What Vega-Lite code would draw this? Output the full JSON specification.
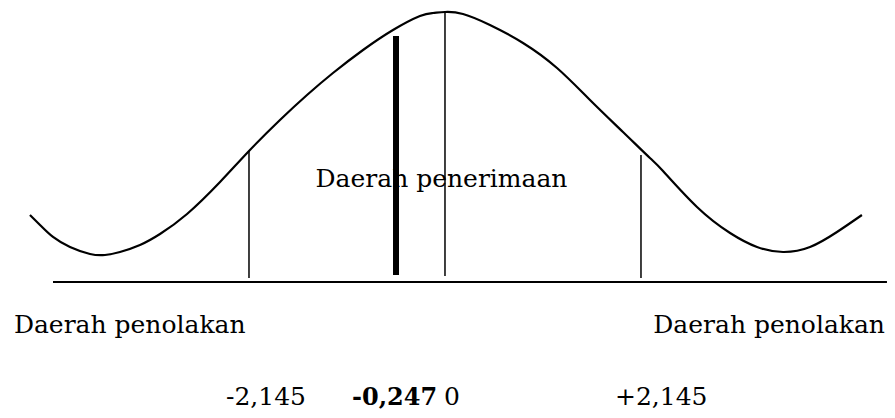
{
  "$schema": "https://vega.github.io/schema/vega-lite/v6.json",
  "width": 895,
  "height": 418,
  "autosize": {"type": "fit", "contains": "padding"},
  "padding": 0,
  "background": "white",
  "config": {"view": {"stroke": null}},
  "datasets": {
    "curve": [
      {"t": -4.542, "y": 0.2454},
      {"t": -4.432, "y": 0.2082},
      {"t": -4.290, "y": 0.1636},
      {"t": -4.104, "y": 0.1264},
      {"t": -3.885, "y": 0.1004},
      {"t": -3.721, "y": 0.0967},
      {"t": -3.557, "y": 0.1078},
      {"t": -3.338, "y": 0.1338},
      {"t": -3.119, "y": 0.1747},
      {"t": -2.823, "y": 0.2491},
      {"t": -2.462, "y": 0.3680},
      {"t": -2.145, "y": 0.4833},
      {"t": -1.806, "y": 0.5985},
      {"t": -1.510, "y": 0.6914},
      {"t": -1.226, "y": 0.7732},
      {"t": -0.897, "y": 0.8587},
      {"t": -0.569, "y": 0.9331},
      {"t": -0.274, "y": 0.9851},
      {"t": -0.131, "y": 0.9963},
      {"t": 0.0, "y": 1.0},
      {"t": 0.197, "y": 0.9926},
      {"t": 0.492, "y": 0.9517},
      {"t": 0.854, "y": 0.8848},
      {"t": 1.226, "y": 0.7918},
      {"t": 1.587, "y": 0.6729},
      {"t": 1.948, "y": 0.5539},
      {"t": 2.243, "y": 0.4572},
      {"t": 2.386, "y": 0.4089},
      {"t": 2.758, "y": 0.2751},
      {"t": 3.120, "y": 0.1784},
      {"t": 3.415, "y": 0.1264},
      {"t": 3.700, "y": 0.1078},
      {"t": 3.995, "y": 0.1264},
      {"t": 4.290, "y": 0.1822},
      {"t": 4.563, "y": 0.2454}
    ],
    "bounds": [
      {"name": "-2,145", "t": -2.145, "top": 0.4833, "bottom": 0.0112},
      {"name": "0", "t": 0.0, "top": 1.0, "bottom": 0.0186},
      {"name": "+2,145", "t": 2.145, "top": 0.4684, "bottom": 0.0112}
    ],
    "stat": [
      {"name": "-0,247", "t": -0.536, "top": 0.9108, "bottom": 0.0223}
    ],
    "baseline": [
      {"start": -4.290, "end": 4.837, "y": -0.0037}
    ],
    "accept": [
      {"label": "Daerah penerimaan", "t": -0.038, "y": 0.3494}
    ],
    "rejectLeft": [
      {"label": "Daerah penolakan", "t": -4.718, "y": -0.1933}
    ],
    "rejectRight": [
      {"label": "Daerah penolakan", "t": 4.815, "y": -0.1933}
    ],
    "numbers": [
      {"label": "-2,145", "t": -2.397, "y": -0.4610},
      {"label": "0", "t": -0.011, "y": -0.4610},
      {"label": "+2,145", "t": 1.860, "y": -0.4610}
    ],
    "boldNumber": [
      {"label": "-0,247", "t": -1.018, "y": -0.4610}
    ]
  },
  "layer": [
    {
      "data": {"name": "accept"},
      "mark": {"type": "text", "font": "DejaVu Serif", "fontSize": 25, "align": "center", "baseline": "alphabetic", "color": "black"},
      "encoding": {
        "x": {"field": "t", "type": "quantitative", "scale": {"domain": [-4.870, 4.925], "nice": false, "zero": false}, "axis": null},
        "y": {"field": "y", "type": "quantitative", "scale": {"domain": [-0.5093, 1.0446], "nice": false, "zero": false}, "axis": null},
        "text": {"field": "label"}
      }
    },
    {
      "data": {"name": "rejectLeft"},
      "mark": {"type": "text", "font": "DejaVu Serif", "fontSize": 25, "align": "left", "baseline": "alphabetic", "color": "black"},
      "encoding": {
        "x": {"field": "t", "type": "quantitative"},
        "y": {"field": "y", "type": "quantitative"},
        "text": {"field": "label"}
      }
    },
    {
      "data": {"name": "rejectRight"},
      "mark": {"type": "text", "font": "DejaVu Serif", "fontSize": 25, "align": "right", "baseline": "alphabetic", "color": "black"},
      "encoding": {
        "x": {"field": "t", "type": "quantitative"},
        "y": {"field": "y", "type": "quantitative"},
        "text": {"field": "label"}
      }
    },
    {
      "data": {"name": "numbers"},
      "mark": {"type": "text", "font": "DejaVu Serif", "fontSize": 25, "align": "left", "baseline": "alphabetic", "color": "black"},
      "encoding": {
        "x": {"field": "t", "type": "quantitative"},
        "y": {"field": "y", "type": "quantitative"},
        "text": {"field": "label"}
      }
    },
    {
      "data": {"name": "boldNumber"},
      "mark": {"type": "text", "font": "DejaVu Serif", "fontSize": 24, "fontWeight": "bold", "align": "left", "baseline": "alphabetic", "color": "black"},
      "encoding": {
        "x": {"field": "t", "type": "quantitative"},
        "y": {"field": "y", "type": "quantitative"},
        "text": {"field": "label"}
      }
    },
    {
      "data": {"name": "curve"},
      "mark": {"type": "line", "interpolate": "natural", "color": "black", "strokeWidth": 2.2},
      "encoding": {
        "x": {"field": "t", "type": "quantitative"},
        "y": {"field": "y", "type": "quantitative"}
      }
    },
    {
      "data": {"name": "baseline"},
      "mark": {"type": "rule", "color": "black", "strokeWidth": 2},
      "encoding": {
        "x": {"field": "start", "type": "quantitative"},
        "x2": {"field": "end"},
        "y": {"field": "y", "type": "quantitative"}
      }
    },
    {
      "data": {"name": "bounds"},
      "mark": {"type": "rule", "color": "black", "strokeWidth": 1.5},
      "encoding": {
        "x": {"field": "t", "type": "quantitative"},
        "y": {"field": "top", "type": "quantitative"},
        "y2": {"field": "bottom"}
      }
    },
    {
      "data": {"name": "stat"},
      "mark": {"type": "rule", "color": "black", "strokeWidth": 6},
      "encoding": {
        "x": {"field": "t", "type": "quantitative"},
        "y": {"field": "top", "type": "quantitative"},
        "y2": {"field": "bottom"}
      }
    }
  ]
}
